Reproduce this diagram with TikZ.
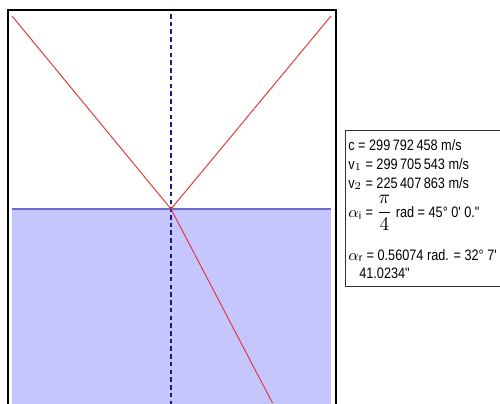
\documentclass[tikz,border=0pt]{standalone}
\usepackage{amsmath}
\usepackage{fontspec}
\setmainfont{Liberation Sans}
\newfontfamily\infofont{Liberation Sans}[FakeStretch=0.84]
\usetikzlibrary{positioning}
\definecolor{water}{HTML}{C6C6FF}
\definecolor{surface}{HTML}{6A6ACF}
\definecolor{normal}{HTML}{1A1A8C}
\definecolor{rayred}{HTML}{DD3A3A}
\tikzset{
  frame/.style={draw=black, line width=0.75pt},
  ray/.style={draw=rayred, line width=0.55pt},
  normalline/.style={draw=normal, line width=0.6pt, dash pattern=on 2.6pt off 1.8pt},
  infobox/.style={draw=black!80, fill=white, line width=0.55pt},
  infotext/.style={anchor=base west, inner sep=0pt, font=\infofont\fontsize{8.6}{10}\selectfont}
}
\newcommand{\bigmath}[1]{{\fontsize{10.5}{12}\selectfont$#1$}}

\begin{document}
\begin{tikzpicture}[x=0.02cm, y=-0.02cm]
  \clip (0,0) rectangle (500,403);
  \fill[white] (0,0) rectangle (500,403);
  % water below the surface
  \fill[water] (12,209) rectangle (331,420);
  \draw[surface, line width=0.85pt] (12,209) -- (331,209);
  \draw[frame] (8,10) rectangle (336,420);
  % rays
  \coordinate (src) at (12,16);
  \coordinate (hit) at (171,209);
  \coordinate (refl) at (331,16);
  \coordinate (out) at (272.5,403);
  \coordinate (ntop) at (171,14);
  \coordinate (nbot) at (171,410);
  \draw[normalline] (ntop) -- (nbot);
  \draw[ray] (src) -- (hit);
  \draw[ray] (hit) -- (refl);
  \draw[ray] (hit) -- (out);
  % values
  \draw[infobox] (345,130) rectangle (510,286);
  \node[infotext] (c) at (348,150) {c = 299\,792\,458 m/s};
  \node[infotext] (vone) at (348,169) {v$_1$ = 299\,705\,543 m/s};
  \node[infotext] (vtwo) at (348,188) {v$_2$ = 225\,407\,863 m/s};
  \node[infotext] (alphai) at (348,217) {$\alpha_{\mathrm{i}}$ = \bigmath{\dfrac{\pi}{4}} rad = 45° 0' 0."};
  \node[infotext] (alphar) at (348,260) {$\alpha_{\mathrm{r}}$ = 0.56074 rad. = 32° 7'};
  \node[infotext] (alphars) at (359,278) {41.0234"};
\end{tikzpicture}
\end{document}
